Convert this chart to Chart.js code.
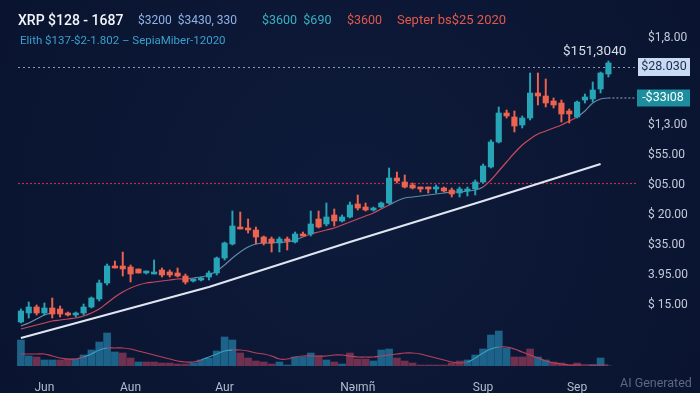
<!DOCTYPE html>
<html>
<head>
<meta charset="utf-8">
<title>XRP chart</title>
<script src="https://cdn.jsdelivr.net/npm/chart.js@4"></script>
<style>
  html, body { margin: 0; padding: 0; background: #0b1631; }
</style>
</head>
<body>
<canvas id="chart" width="700" height="393"></canvas>
<script>
// candle values (price units)
const opens  = [78,87,93,87,92,91,87,85,87,93,101,117,134,134,133,131,127,126,130,128,127,124,119,120,123,127,142,156,173,172,170,163,161,157,161,158,166,166,181,176,185,179,183,196,193,190,193,197,222,218,215,213,213,211,212,210,207,209,211,218,233,258,287,283,275,282,307,304,299,297,289,283,300,301,311,326];
const highs  = [91,98,95,97,102,94,88,88,96,103,120,136,139,148,135,131,129,140,132,130,132,126,121,123,129,143,158,189,188,181,173,164,163,163,163,168,168,189,189,197,191,185,198,205,197,193,198,232,228,225,217,213,213,215,213,212,213,213,220,236,260,293,290,289,284,327,327,321,302,300,291,299,306,318,328,339];
const lows   = [77,82,85,85,82,83,84,83,85,92,99,115,132,124,118,127,126,126,123,123,123,116,118,119,120,125,140,155,171,167,156,155,148,148,150,157,164,164,172,174,174,178,182,190,189,189,192,196,217,212,211,208,207,207,208,203,203,204,205,217,232,257,282,268,272,280,295,293,292,278,277,282,297,298,307,323];
const closes = [89,93,87,92,86,86,85,86,93,102,117,134,132,131,126,127,129,127,125,125,124,118,121,122,127,142,157,174,171,170,163,157,157,161,159,166,164,176,173,183,179,183,195,192,190,192,197,222,219,213,212,211,211,213,209,206,211,211,218,234,258,287,284,274,282,307,304,297,295,286,286,298,303,310,327,337];

// moving averages
const maLine   = [71,73,75,77,79,80,81,82,84,87,91,97,103,108,112,115,117,118,119,120,121,121,122,123,125,129,135,142,148,153,156,157,157,158,158,160,163,166,168,170,172,175,178,181,184,187,191,195,199,202,203,204,205,206,207,208,208,209,210,213,220,229,238,247,255,261,266,269,272,275,279,283,289,297,301,302];
const maShort  = [74,77,81,85,87];
const maRedRanges = [[0,22],[36,47],[59,71]];
const trendLine = {0: 62, 24: 113, 42: 158, 59: 199, 74: 236};

// volume
const volumes = [26,10,9,6,6,6,7,7,11,16,24,33,14,13,8,4,4,4,3,3,2,2,3,6,8,15,29,26,13,8,5,4,2,4,1,9,9,13,10,6,4,2,13,7,7,5,16,17,8,5,3,1,1,1,1,3,5,6,11,17,31,35,18,9,9,17,9,6,4,3,1,3,0,1,8,0];
const volDir  = "uuduudduuuuuuddudddddduuuuuuddddduuuuudududdduuuddddddddduuuuuuddduuddddduuuuu";
const volMa   = [12,12,12,12,10,8,7,7,9,12,16,18,18,18,17,15,13,11,9,7,5,4,4,6,9,12,15,16,16,15,13,12,10,7,7,9,10,10,10,10,11,11,10,9,9,9,10,11,12,13,13,12,10,8,6,4,3,4,8,13,17,19,19,17,14,11,8,5,3,2,1,1,1,1,1,1];
const volMaTeal = [[8,11],[23,27],[57,61]];

// axis text
const monthLabels = {3: "Jun", 14: "Aun", 26: "Aur", 43: "Nəımñ", 59: "Sup", 71: "Sep"};
const priceTicks = [95,125,155,185,215,245,275,362];
const priceTickLabels = {95: "$ 15.00", 125: "3.95.00", 155: "$35.00", 185: "$ 20.00", 215: "$05.00", 245: "$55.00", 275: "$1,3.00", 362: "$1,8.00"};
const refWhite = 333, refRed = 217, lastMa = 302;

const nCat = 78;
const labels = Array.from({length: nCat}, (_, i) => i);
const TEAL = '#27a4b6', RED = '#ec6350';

const candleColor = closes.map((c, i) => c >= opens[i] ? TEAL : RED);
const wickData = highs.map((h, i) => [lows[i], h]);
const bodyData = opens.map((o, i) => [Math.min(o, closes[i]), Math.max(o, closes[i])]);
const trendData = labels.map(i => trendLine[i] !== undefined ? trendLine[i] : null);

const inRanges = (i, rs) => rs.some(r => i >= r[0] && i < r[1]);

const decor = {
  id: 'decor',
  beforeDraw(chart) {
    const ctx = chart.ctx;
    const g = ctx.createRadialGradient(350, 200, 40, 350, 200, 460);
    g.addColorStop(0, '#0d1a39');
    g.addColorStop(1, '#09132e');
    ctx.save();
    ctx.fillStyle = g;
    ctx.fillRect(0, 0, chart.width, chart.height);
    ctx.restore();
  },
  beforeDatasetsDraw(chart) {
    const ctx = chart.ctx, y = chart.scales.y, x = chart.scales.x;
    ctx.save();
    ctx.lineWidth = 1.2;
    ctx.setLineDash([2, 3]);
    ctx.strokeStyle = '#8d9bbb';
    let yy = Math.round(y.getPixelForValue(refWhite)) + 0.5;
    ctx.beginPath(); ctx.moveTo(18, yy); ctx.lineTo(636, yy); ctx.stroke();
    ctx.strokeStyle = '#b8304a';
    ctx.setLineDash([2, 2]);
    yy = Math.round(y.getPixelForValue(refRed)) + 0.5;
    ctx.beginPath(); ctx.moveTo(18, yy); ctx.lineTo(636, yy); ctx.stroke();
    ctx.strokeStyle = '#7f95b0';
    yy = y.getPixelForValue(lastMa);
    ctx.beginPath(); ctx.moveTo(x.getPixelForValue(75), yy); ctx.lineTo(636, yy); ctx.stroke();
    ctx.restore();
  },
  afterDraw(chart) {
    const ctx = chart.ctx, y = chart.scales.y;
    ctx.save();
    ctx.textBaseline = 'middle';
    const parts = [
      ['500 14px Roboto', '#f2f5fa', 'XRP $128 - 1687', 18],
      ['12px Roboto', '#8fb3e6', '$3200  $3430, 330', 138],
      ['12.5px Roboto', '#37b2c4', '$3600  $690', 262],
      ['12.5px Roboto', '#e4584c', '$3600', 347],
      ['13px Roboto', '#e4584c', 'Septer bs$25 2020', 397]
    ];
    parts.forEach(p => { ctx.font = p[0]; ctx.fillStyle = p[1]; ctx.fillText(p[2], p[3], 21); });
    ctx.font = '11.5px Roboto';
    ctx.fillStyle = '#3aa0cc';
    ctx.fillText('Elith $137-$2-1.802 \u2013 SepiaMiber-12020', 20, 41);

    ctx.font = '13.5px Roboto';
    ctx.fillStyle = '#d8dee8';
    ctx.fillText('$151,3040', 563, 52);

    // price badges
    let yy = y.getPixelForValue(refWhite);
    ctx.fillStyle = '#c9dbf2';
    ctx.fillRect(638, yy - 9, 52, 18);
    ctx.fillStyle = '#1a2a50';
    ctx.textAlign = 'center';
    ctx.font = '12.5px Roboto';
    ctx.fillText('$28.030', 664, yy);
    yy = y.getPixelForValue(lastMa);
    ctx.fillStyle = '#1c8e9e';
    ctx.fillRect(637, yy - 8.5, 53, 17);
    ctx.fillStyle = '#ffffff';
    ctx.fillText('-$33ı08', 663, yy);

    ctx.textAlign = 'left';
    ctx.font = '12.5px Roboto';
    ctx.fillStyle = '#5b6783';
    ctx.fillText('AI Generated', 620, 384);
    ctx.restore();
  }
};

new Chart(document.getElementById('chart').getContext('2d'), {
  type: 'bar',
  data: {
    labels: labels,
    datasets: [
      {
        label: 'body', data: bodyData, backgroundColor: candleColor,
        barThickness: 5.5, grouped: false, minBarLength: 2, order: 0, yAxisID: 'y'
      },
      {
        label: 'wick', data: wickData, backgroundColor: candleColor,
        barThickness: 1.3, grouped: false, order: 1, yAxisID: 'y'
      },
      {
        type: 'line', label: 'ma', data: maLine, borderWidth: 1.2, pointRadius: 0,
        tension: 0.35, order: 2, yAxisID: 'y',
        segment: { borderColor: c => inRanges(c.p0DataIndex, maRedRanges) ? '#c94a5c' : '#5f89a6' }
      },
      {
        type: 'line', label: 'ma short', data: maShort, borderColor: '#6f94ac', borderWidth: 1.1,
        pointRadius: 0, tension: 0.3, order: 2, yAxisID: 'y'
      },
      {
        type: 'line', label: 'trend', data: trendData, borderColor: '#dfe6f2', borderWidth: 2.2,
        pointRadius: 0, spanGaps: true, order: 2, yAxisID: 'y'
      },
      {
        label: 'volume', data: volumes, barThickness: 7, grouped: false, order: 4, yAxisID: 'yv',
        backgroundColor: volumes.map((v, i) => volDir[i] === 'u' ? 'rgba(31,108,146,0.9)' : 'rgba(122,52,82,0.9)')
      },
      {
        type: 'line', label: 'vol ma', data: volMa, borderWidth: 1.2, pointRadius: 0,
        tension: 0.4, order: 3, yAxisID: 'yv',
        segment: { borderColor: c => inRanges(c.p0DataIndex, volMaTeal) ? '#3a9cc0' : '#b8415e' }
      }
    ]
  },
  options: {
    responsive: false,
    animation: false,
    devicePixelRatio: 1,
    layout: { padding: { top: 30, left: 17, right: 0, bottom: 0 } },
    plugins: { legend: { display: false }, tooltip: { enabled: false } },
    scales: {
      x: {
        grid: { display: false }, border: { display: false },
        afterFit: s => { s.height = 27; },
        ticks: {
          autoSkip: false, maxRotation: 0, padding: 7, color: '#b3bccd',
          font: { family: 'Roboto', size: 12 },
          callback: (v, i) => monthLabels[i] || ''
        }
      },
      y: {
        position: 'right', min: 34, max: 370,
        grid: { display: false }, border: { display: false },
        afterFit: s => { s.width = 72; },
        afterBuildTicks: s => { s.ticks = priceTicks.map(v => ({ value: v })); },
        ticks: {
          padding: 12, color: '#c3cad8', font: { family: 'Roboto', size: 12 },
          callback: v => priceTickLabels[v] || ''
        }
      },
      yv: {
        display: false, min: 0, max: 336
      }
    }
  },
  plugins: [decor]
});
</script>
</body>
</html>
